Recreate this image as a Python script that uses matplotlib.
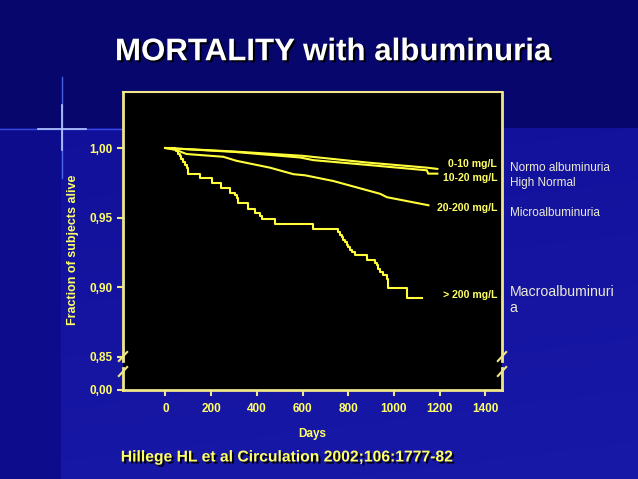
import numpy as np
import matplotlib
matplotlib.use('Agg')
from matplotlib import pyplot as plt
import matplotlib.patheffects as pe

plt.rcParams['font.family'] = ['Liberation Sans', 'DejaVu Sans']

# Kaplan-Meier curves (days, fraction alive)
days_0_10 = [0, 300, 600, 881, 1144, 1190]
surv_0_10 = [1.000, 0.9975, 0.9944, 0.9896, 0.9859, 0.9850]

days_10_20 = [0, 300, 589, 647, 881, 1144, 1150, 1190]
surv_10_20 = [1.000, 0.9972, 0.9932, 0.9913, 0.9879, 0.9840, 0.9816, 0.9816]

days_20_200 = [0, 48, 92, 253, 311, 457, 560, 611, 735, 940, 969, 1151]
surv_20_200 = [1.000, 0.9985, 0.9957, 0.9937, 0.9908, 0.9859, 0.9812, 0.9804,
               0.9763, 0.9671, 0.9647, 0.9589]

days_gt200 = [0, 40, 47, 55, 63, 70, 77, 85, 92, 99, 150, 202, 245, 282, 304,
              311, 318, 362, 392, 413, 421, 479, 647, 757, 764, 772, 779, 786,
              793, 800, 808, 818, 830, 881, 918, 925, 932, 940, 950, 969, 976,
              1059, 1122]
surv_gt200 = [1.000, 0.9993, 0.9975, 0.9960, 0.9940, 0.9920, 0.9900, 0.9880,
              0.9860, 0.9816, 0.9782, 0.9751, 0.9710, 0.9678, 0.9660, 0.9642,
              0.9606, 0.9565, 0.9534, 0.9510, 0.9493, 0.9454, 0.9418, 0.9400,
              0.9377, 0.9359, 0.9341, 0.9322, 0.9304, 0.9286, 0.9268, 0.9250,
              0.9232, 0.9196, 0.9178, 0.9159, 0.9135, 0.9111, 0.9085, 0.9062,
              0.8995, 0.8923, 0.8923]

curve_labels = ['0-10 mg/L', '10-20 mg/L', '20-200 mg/L', '> 200 mg/L']
label_y = [0.9885, 0.9785, 0.9569, 0.8945]
groups = ['Normo albuminuria', 'High Normal', 'Microalbuminuria']
group_y = [0.649, 0.618, 0.555]

x_ticks = [0, 200, 400, 600, 800, 1000, 1200, 1400]
y_ticks = [0.8263, 0.85, 0.90, 0.95, 1.00]
y_ticklabels = ['0,00', '0,85', '0,90', '0,95', '1,00']

yellow = '#ffff3a'
txt_yellow = '#ffff66'
spine_col = '#f0e68a'
cream = '#ecebd6'

fig = plt.figure(figsize=(6.38, 4.79), dpi=100)

# slide background
bg = fig.add_axes([0, 0, 1, 1], zorder=-10)
h, w = 479, 638
img = np.zeros((h, w, 3))
yy = np.linspace(0, 1, h)[:, None]
xx = np.linspace(0, 1, w)[None, :]
lower = np.array([14, 14, 150]) / 255 + (yy * 0.12 + xx * 0.02)[..., None] * np.array([0.3, 0.3, 0.5])
img[:] = lower
img[:128] = np.array([6, 6, 108]) / 255
img[128:, :61] = np.array([12, 12, 140]) / 255
bg.imshow(np.clip(img, 0, 1), extent=[0, w, h, 0], aspect='auto')
bg.plot([62, 62], [77, 178], color='#5a78ff', lw=1, alpha=0.8)
bg.plot([0, 130], [129, 129], color='#4a64ff', lw=1, alpha=0.7)
bg.plot([38, 86], [129, 129], color='#b8c8ff', lw=1.2)
bg.plot([62, 62], [105, 150], color='#b8c8ff', lw=1.2)
bg.set_xlim(0, w)
bg.set_ylim(h, 0)
bg.axis('off')

ax = fig.add_axes([123 / 638, 1 - 390 / 479, 379 / 638, 298 / 479])
ax.set_facecolor('black')

ax.plot(days_0_10, surv_0_10, color=yellow, lw=1.5)
ax.plot(days_10_20, surv_10_20, color=yellow, lw=1.5)
ax.plot(days_20_200, surv_20_200, color=yellow, lw=1.5)
ax.step(days_gt200, surv_gt200, where='post', color=yellow, lw=1.5)

ax.set_xlim(-186, 1473)
ax.set_ylim(0.8263, 1.0402)
ax.set_xticks(x_ticks)
ax.set_yticks(y_ticks)
ax.set_yticklabels(y_ticklabels)
ax.tick_params(colors=spine_col, labelcolor=txt_yellow, direction='out',
               length=4, width=1.5, labelsize=8.5)
ax.tick_params(axis='x', pad=5)
for lab in ax.get_xticklabels() + ax.get_yticklabels():
    lab.set_fontweight('bold')

for s in ['left', 'right']:
    ax.spines[s].set_visible(False)
ax.spines['top'].set_color(spine_col)
ax.spines['bottom'].set_color(spine_col)
ax.spines['top'].set_linewidth(1.5)
ax.spines['bottom'].set_linewidth(2)

# broken vertical axes with slash marks
tr = ax.transAxes
for xs in [0, 1]:
    ax.plot([xs, xs], [0.0973, 1], color=spine_col, lw=2, transform=tr, clip_on=False)
    ax.plot([xs, xs], [0, 0.0738], color=spine_col, lw=2, transform=tr, clip_on=False)
    ax.plot([xs - 0.011, xs + 0.011], [0.0973, 0.1275], color=spine_col, lw=1.5,
            transform=tr, clip_on=False)
    ax.plot([xs - 0.011, xs + 0.011], [0.0470, 0.0772], color=spine_col, lw=1.5,
            transform=tr, clip_on=False)

for lab, yv in zip(curve_labels, label_y):
    ax.text(1452, yv, lab, color=txt_yellow, fontsize=7.6, fontweight='bold',
            ha='right', va='center')

ax.set_xlabel('Days', color=txt_yellow, fontsize=8.5, fontweight='bold', labelpad=10)
fig.text(0.1144, 0.478, 'Fraction of subjects alive', rotation=90, color=txt_yellow,
         fontsize=9, fontweight='bold', ha='center', va='center')

for g, yv in zip(groups, group_y):
    fig.text(0.799, yv, g, color=cream, fontsize=8.5, ha='left', va='center')
fig.text(0.799, 0.390, 'Macroalbuminuri', color=cream, fontsize=10.2, ha='left', va='center')
fig.text(0.799, 0.357, 'a', color=cream, fontsize=10.2, ha='left', va='center')

shadow = [pe.SimplePatchShadow(offset=(1.5, -1.5), shadow_rgbFace='black', alpha=0.9),
          pe.Normal()]
fig.text(0.522, 0.891, 'MORTALITY with albuminuria', color='white', fontsize=22.5,
         fontweight='bold', ha='center', va='center', path_effects=shadow)
fig.text(0.451, 0.046, 'Hillege HL et al Circulation 2002;106:1777-82', color=txt_yellow,
         fontsize=11.3, fontweight='bold', ha='center', va='center', path_effects=shadow)

fig.savefig('out.png', dpi=100)
